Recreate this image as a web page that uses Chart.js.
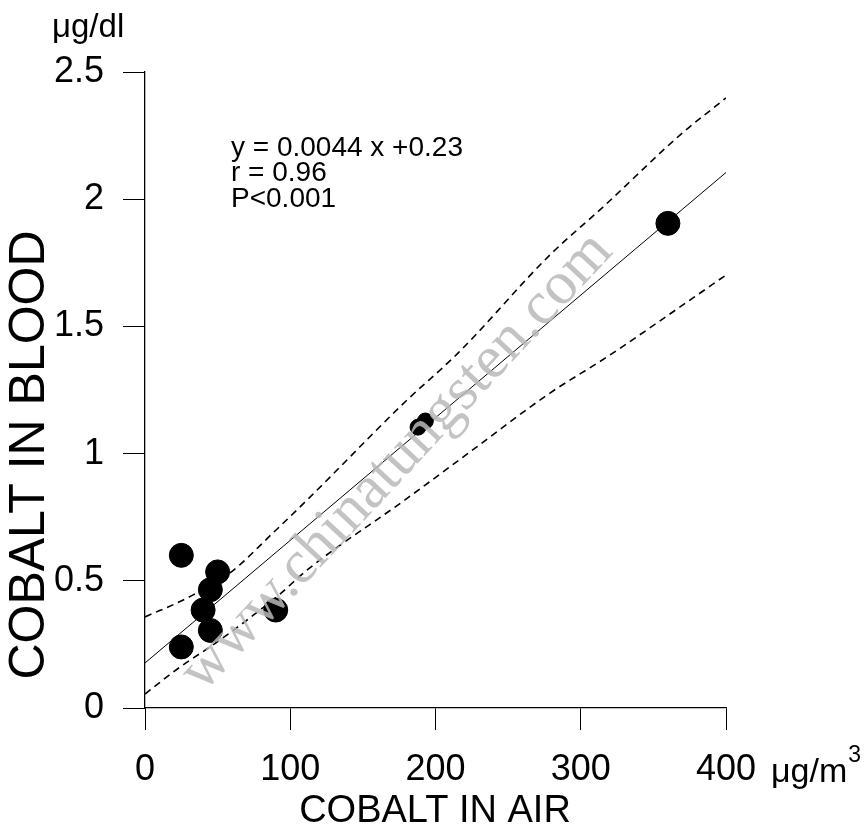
<!DOCTYPE html>
<html>
<head>
<meta charset="utf-8">
<script src="https://cdn.jsdelivr.net/npm/chart.js@4.4.1/dist/chart.umd.min.js"></script>
<style>
  html, body { margin: 0; padding: 0; background: #ffffff; }
  #wrap { width: 868px; height: 833px; position: relative; }
</style>
</head>
<body>
<div id="wrap"><canvas id="c" width="868" height="833"></canvas></div>
<script>
// ---- data ----
const airCobalt   = [25, 25, 40, 45, 50, 45, 90, 188, 193, 360];
const bloodCobalt = [0.60, 0.24, 0.385, 0.465, 0.535, 0.305, 0.385, 1.104, 1.128, 1.905];

const fitX = [0, 400];
const fitY = [0.177, 2.105];

const upperX = [0, 28.9, 58.5, 88.1, 113.6, 179.0, 215.5, 278.8, 315.3, 368.3, 400];
const upperY = [0.358, 0.432, 0.531, 0.688, 0.829, 1.203, 1.395, 1.781, 1.969, 2.252, 2.398];

const lowerX = [0, 24.1, 51.6, 92.9, 111.5, 179.0, 218.2, 278.8, 318.1, 377.3, 400];
const lowerY = [0.055, 0.161, 0.267, 0.448, 0.542, 0.818, 0.983, 1.238, 1.380, 1.612, 1.702];

const xTickLabels = ['0', '100', '200', '300', '400'];
const yTickLabels = ['0', '0.5', '1', '1.5', '2', '2.5'];

const equationLines = ['y = 0.0044 x +0.23', 'r = 0.96', 'P<0.001'];
const xTitle = 'COBALT IN AIR';
const yTitle = 'COBALT IN BLOOD';
const yUnit = 'μg/dl';
const xUnit = 'μg/m';
const xUnitSup = '3';
const watermark = 'www.chinatungsten.com';

// ---- helpers ----
const pts = (xs, ys) => xs.map((x, i) => ({ x: x, y: ys[i] }));
const FONT = '"Liberation Sans", Arial, Helvetica, sans-serif';

const textPlugin = {
  id: 'textPlugin',
  afterDraw(chart) {
    const ctx = chart.ctx;
    ctx.save();
    ctx.fillStyle = '#000';
    // equation block
    ctx.font = '28px ' + FONT;
    ctx.textAlign = 'left';
    ctx.textBaseline = 'middle';
    equationLines.forEach((t, i) => ctx.fillText(t, 231, 148 + i * 25.5));
    // y unit
    ctx.font = '33px ' + FONT;
    ctx.fillText(yUnit, 52, 28);
    // x unit
    ctx.font = '34px ' + FONT;
    ctx.fillText(xUnit, 771, 773);
    const w = ctx.measureText(xUnit).width;
    ctx.font = '23px ' + FONT;
    ctx.fillText(xUnitSup, 771 + w + 1, 756);
    // x title
    ctx.font = '38px ' + FONT;
    ctx.textAlign = 'center';
    ctx.fillText(xTitle, 435, 812);
    // y title
    ctx.save();
    ctx.translate(30, 455);
    ctx.rotate(-Math.PI / 2);
    ctx.font = '50px ' + FONT;
    ctx.fillText(yTitle, 0, 0);
    ctx.restore();
    // watermark
    ctx.save();
    ctx.translate(397, 462);
    ctx.rotate(-47 * Math.PI / 180);
    ctx.font = '61px "Liberation Serif", "Times New Roman", serif';
    ctx.fillStyle = 'rgba(185,185,185,0.85)';
    ctx.textAlign = 'center';
    ctx.fillText(watermark, 0, 0);
    ctx.restore();
    ctx.restore();
  }
};

const chart = new Chart(document.getElementById('c'), {
  type: 'scatter',
  data: {
    datasets: [
      {
        label: 'points',
        data: pts(airCobalt, bloodCobalt),
        backgroundColor: '#000',
        borderColor: '#000',
        borderWidth: 1,
        pointRadius: (c) => (c.raw && c.raw.x > 150 && c.raw.x < 250) ? 8 : 12,
        pointHoverRadius: 12,
        showLine: false,
        order: 0
      },
      {
        label: 'fit',
        data: pts(fitX, fitY),
        showLine: true,
        borderColor: '#000',
        borderWidth: 1,
        pointRadius: 0,
        order: 1
      },
      {
        label: 'upper',
        data: pts(upperX, upperY),
        showLine: true,
        borderColor: '#000',
        borderWidth: 1.6,
        borderDash: [7, 5],
        cubicInterpolationMode: 'monotone',
        pointRadius: 0,
        order: 2
      },
      {
        label: 'lower',
        data: pts(lowerX, lowerY),
        showLine: true,
        borderColor: '#000',
        borderWidth: 1.6,
        borderDash: [7, 5],
        cubicInterpolationMode: 'monotone',
        pointRadius: 0,
        order: 3
      }
    ]
  },
  options: {
    responsive: false,
    animation: false,
    devicePixelRatio: 1,
    layout: { padding: { left: 0, right: 142, top: 72, bottom: 0 } },
    plugins: { legend: { display: false }, tooltip: { enabled: false } },
    scales: {
      x: {
        type: 'linear',
        min: 0, max: 400,
        afterFit: (s) => { s.height = 125; s.paddingLeft = 0; s.paddingRight = 0; },
        ticks: {
          stepSize: 100,
          color: '#000',
          font: { family: FONT, size: 36 },
          padding: 18,
          maxRotation: 0,
          callback: (v) => xTickLabels[Math.round(v / 100)]
        },
        grid: { display: true, drawOnChartArea: false, drawTicks: true, tickLength: 22, color: '#000', tickColor: '#000', tickWidth: 1 },
        border: { display: true, color: '#000', width: 1.3 }
      },
      y: {
        type: 'linear',
        min: 0, max: 2.5,
        afterFit: (s) => { s.width = 145; s.paddingTop = 0; s.paddingBottom = 0; },
        ticks: {
          stepSize: 0.5,
          color: '#000',
          font: { family: FONT, size: 36 },
          padding: 19,
          callback: (v) => yTickLabels[Math.round(v / 0.5)]
        },
        grid: { display: true, drawOnChartArea: false, drawTicks: true, tickLength: 22, color: '#000', tickColor: '#000', tickWidth: 1 },
        border: { display: true, color: '#000', width: 1.3 }
      }
    }
  },
  plugins: [textPlugin]
});
</script>
</body>
</html>
